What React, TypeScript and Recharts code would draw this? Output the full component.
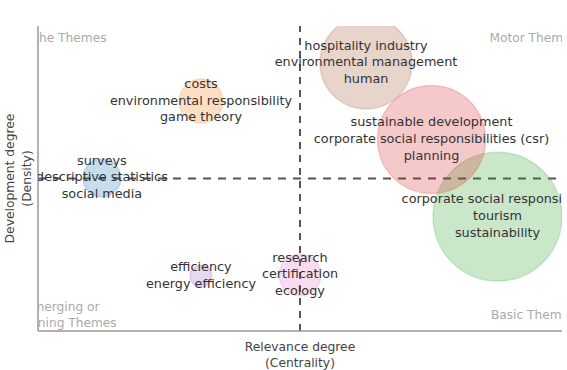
import React from "react";
import {
  ScatterChart, Scatter, XAxis, YAxis, ZAxis, ReferenceLine,
} from "recharts";

// themes: centrality (x), density (y), frequency (bubble size)
const themeLabels: string[][] = [
  ["surveys", "descriptive statistics", "social media"],
  ["costs", "environmental responsibility", "game theory"],
  ["corporate social responsibility", "tourism", "sustainability"],
  ["sustainable development", "corporate social responsibilities (csr)", "planning"],
  ["efficiency", "energy efficiency"],
  ["hospitality industry", "environmental management", "human"],
  ["research", "certification", "ecology"],
];
const centrality = [12.2, 31.1, 87.7, 75.1, 31.1, 62.6, 50.0];
const density = [50.2, 75.4, 37.5, 62.8, 18.0, 87.9, 18.4];
const frequency = [36, 48, 416, 292, 12, 212, 44];
const themeColors = ["#1f77b4", "#ff7f0e", "#2ca02c", "#d62728", "#9467bd", "#a0522d", "#e377c2"];

// quadrant names
const quadrantNames: string[][] = [
  ["Niche Themes"],
  ["Motor Themes"],
  ["Emerging or", "Declining Themes"],
  ["Basic Themes"],
];
const quadrantX = [4.8, 94.5, 4.6, 94.5];
const quadrantY = [95.7, 95.7, 4.9, 4.9];

const meanCentrality = 50;
const meanDensity = 50;

const FONT = "DejaVu Sans";

const themeData = themeLabels.map((lines, i) => ({
  x: centrality[i],
  y: density[i],
  z: frequency[i],
  lines,
  color: themeColors[i],
}));

const quadrantData = quadrantNames.map((lines, i) => ({
  x: quadrantX[i],
  y: quadrantY[i],
  z: 0,
  lines,
}));

function Bubble(props: any) {
  const { cx, cy, width, payload } = props;
  const r = (width ?? 0) / 2;
  return (
    <circle
      cx={cx}
      cy={cy}
      r={r}
      fill={payload.color}
      fillOpacity={0.25}
      stroke={payload.color}
      strokeOpacity={0.2}
      strokeWidth={1.5}
    />
  );
}

function MultiText({ cx, cy, lines, fill, size, lh }: any) {
  const start = -((lines.length - 1) / 2) * lh;
  return (
    <text
      x={cx}
      y={cy}
      textAnchor="middle"
      dominantBaseline="central"
      fontFamily={FONT}
      fontSize={size}
      fill={fill}
    >
      {lines.map((l: string, i: number) => (
        <tspan key={i} x={cx} dy={i === 0 ? start : lh}>
          {l}
        </tspan>
      ))}
    </text>
  );
}

const BubbleLabel = (props: any) => (
  <MultiText cx={props.cx} cy={props.cy - 1.5} lines={props.payload.lines} fill="#333" size={12.8} lh={16.8} />
);

const QuadrantLabel = (props: any) => (
  <MultiText cx={props.cx} cy={props.cy - 1} lines={props.payload.lines} fill="#aaaaaa" size={12.2} lh={16} />
);

function XTitle({ viewBox }: any) {
  const { x, y, width } = viewBox;
  return (
    <MultiText cx={x + width / 2} cy={y + 23.5} lines={["Relevance degree", "(Centrality)"]} fill="#444" size={12.3} lh={16} />
  );
}

function YTitle({ viewBox }: any) {
  const { y, height } = viewBox;
  const cx = 18;
  const cy = y + height / 2;
  return (
    <g transform={`rotate(-90 ${cx} ${cy})`}>
      <MultiText cx={cx} cy={cy} lines={["Development degree", "(Density)"]} fill="#444" size={12.3} lh={17} />
    </g>
  );
}

export default function App() {
  return (
    <div style={{ position: "absolute", left: 0, top: 0, background: "#fff" }}>
      <ScatterChart width={567} height={370} margin={{ top: 26, right: 5, bottom: 0, left: 0 }}>
        <XAxis
          type="number"
          dataKey="x"
          domain={[0, 100]}
          allowDataOverflow
          tick={false}
          tickLine={false}
          height={39}
          axisLine={{ stroke: "#999", strokeWidth: 1.5 }}
          label={{ content: XTitle }}
        />
        <YAxis
          type="number"
          dataKey="y"
          domain={[0, 100]}
          allowDataOverflow
          tick={false}
          tickLine={false}
          width={38}
          axisLine={{ stroke: "#999", strokeWidth: 1.5 }}
          label={{ content: YTitle }}
        />
        <ZAxis type="number" dataKey="z" domain={[0, 500]} range={[0, Math.PI * 5000]} />
        <Scatter data={themeData} shape={Bubble} isAnimationActive={false} />
        <Scatter data={themeData} shape={BubbleLabel} isAnimationActive={false} />
        <Scatter data={quadrantData} shape={QuadrantLabel} isAnimationActive={false} />
        <ReferenceLine x={meanCentrality} stroke="#555" strokeWidth={2} strokeDasharray="7 6" />
        <ReferenceLine y={meanDensity} stroke="#555" strokeWidth={2} strokeDasharray="8 7" />
      </ScatterChart>
    </div>
  );
}
